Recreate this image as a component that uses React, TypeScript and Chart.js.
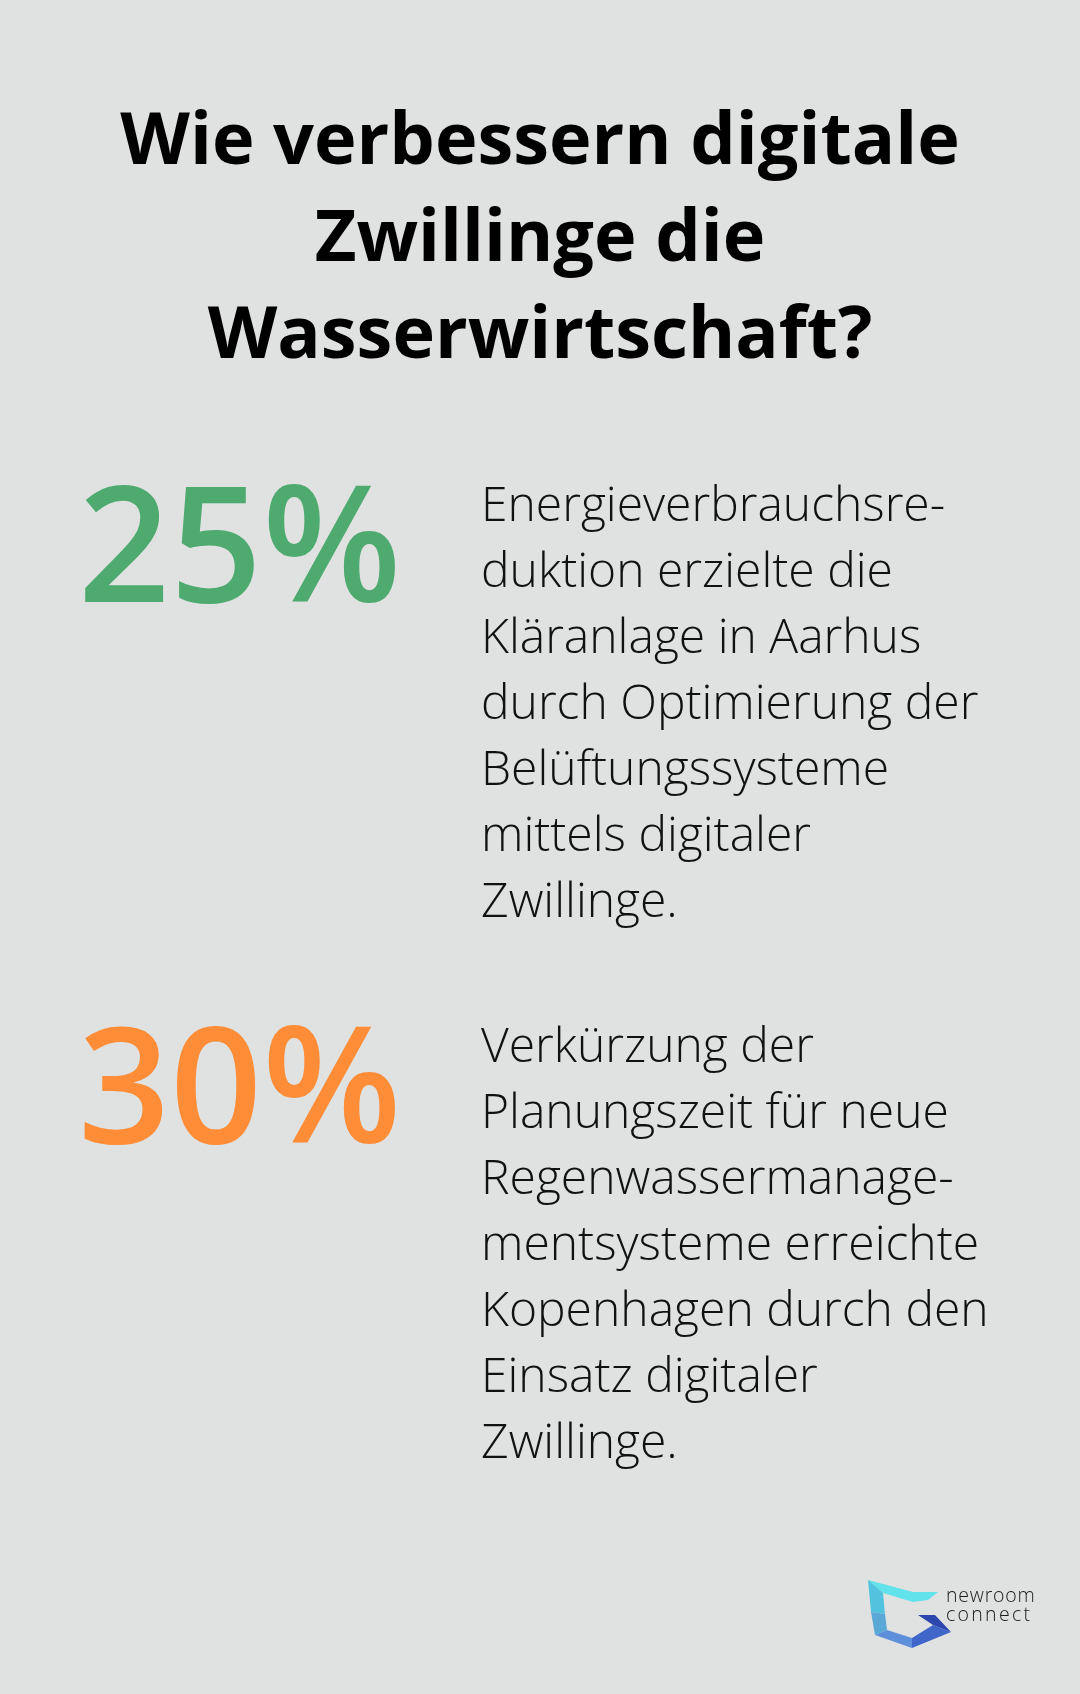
import React, { useEffect, useRef } from "react";
import { Chart, registerables } from "chart.js";

Chart.register(...registerables);

const titleLines = ["Wie verbessern digitale", "Zwillinge die", "Wasserwirtschaft?"];
const statValues = [25, 30];
const statColors = ["#4EAA6F", "#FF8C36"];
const statTexts = [
  [
    "Energieverbrauchsre-",
    "duktion erzielte die",
    "Kläranlage in Aarhus",
    "durch Optimierung der",
    "Belüftungssysteme",
    "mittels digitaler",
    "Zwillinge.",
  ],
  [
    "Verkürzung der",
    "Planungszeit für neue",
    "Regenwassermanage-",
    "mentsysteme erreichte",
    "Kopenhagen durch den",
    "Einsatz digitaler",
    "Zwillinge.",
  ],
];
const logoLines = ["newroom", "connect"];

const W = 1080;
const H = 1694;
const BG = "#DFE2E1";
const FONT = "'Open Sans', 'Noto Sans', sans-serif";

const statTops = [460, 1001];
const textTops = [470, 1011];

export default function App() {
  const ref = useRef<HTMLCanvasElement | null>(null);

  useEffect(() => {
    if (!ref.current) return;
    const bgPlugin = {
      id: "bgLogo",
      beforeDraw(chart: any) {
        const ctx = chart.ctx as CanvasRenderingContext2D;
        ctx.save();
        ctx.fillStyle = BG;
        ctx.fillRect(0, 0, chart.width, chart.height);
        ctx.restore();
      },
      afterDraw(chart: any) {
        const ctx = chart.ctx as CanvasRenderingContext2D;
        const facets: [string, number[][]][] = [
          ["#62E2EA", [[868, 1580], [913, 1592], [938, 1592], [928, 1600], [913, 1602], [883, 1593]]],
          ["#52C3DE", [[868, 1580], [883, 1593], [885, 1614], [871, 1612]]],
          ["#5AA8D6", [[871, 1612], [885, 1614], [887, 1630], [875, 1635]]],
          ["#5D8FDA", [[875, 1635], [887, 1630], [912, 1638], [912, 1648]]],
          ["#3F66C8", [[912, 1638], [933, 1625], [951, 1632], [912, 1648]]],
          ["#2E47AE", [[918, 1615], [935, 1615], [951, 1632], [933, 1625]]],
        ];
        ctx.save();
        for (const [c, pts] of facets) {
          ctx.beginPath();
          pts.forEach(([x, y], i) => (i ? ctx.lineTo(x, y) : ctx.moveTo(x, y)));
          ctx.closePath();
          ctx.fillStyle = c;
          ctx.fill();
        }
        ctx.restore();
      },
    };
    const chart = new Chart(ref.current, {
      type: "bar",
      data: { labels: [], datasets: [] },
      options: {
        animation: false,
        responsive: false,
        events: [],
        plugins: { legend: { display: false }, tooltip: { enabled: false } },
        scales: { x: { display: false }, y: { display: false } },
      },
      plugins: [bgPlugin],
    });
    return () => chart.destroy();
  }, []);

  return (
    <div
      style={{
        position: "absolute",
        left: 0,
        top: 0,
        width: W,
        height: H,
        overflow: "hidden",
        background: BG,
        fontFamily: FONT,
      }}
    >
      <canvas ref={ref} width={W} height={H} style={{ position: "absolute", left: 0, top: 0, width: W, height: H }} />
      <div
        style={{
          position: "absolute",
          left: 0,
          top: 88,
          width: W,
          textAlign: "center",
          fontSize: 72,
          lineHeight: "97px",
          fontWeight: 700,
          color: "#000",
          whiteSpace: "nowrap",
        }}
      >
        {titleLines.map((l, i) => (
          <div key={i}>{l}</div>
        ))}
      </div>
      {statValues.map((v, i) => (
        <React.Fragment key={i}>
          <div
            style={{
              position: "absolute",
              left: 78,
              top: statTops[i],
              fontSize: 161,
              lineHeight: "160px",
              fontWeight: 600,
              color: statColors[i],
              whiteSpace: "nowrap",
            }}
          >
            {v}%
          </div>
          <div
            style={{
              position: "absolute",
              left: 481,
              top: textTops[i],
              fontSize: 48,
              lineHeight: "66px",
              fontWeight: 300,
              color: "#111",
              whiteSpace: "nowrap",
            }}
          >
            {statTexts[i].map((l, j) => (
              <div key={j}>{l}</div>
            ))}
          </div>
        </React.Fragment>
      ))}
      <div
        style={{
          position: "absolute",
          left: 946,
          top: 1585,
          fontSize: 19.5,
          lineHeight: "19px",
          fontWeight: 300,
          color: "#1A1A1A",
          whiteSpace: "nowrap",
        }}
      >
        <div style={{ letterSpacing: 0.8 }}>{logoLines[0]}</div>
        <div style={{ letterSpacing: 2.3 }}>{logoLines[1]}</div>
      </div>
    </div>
  );
}
